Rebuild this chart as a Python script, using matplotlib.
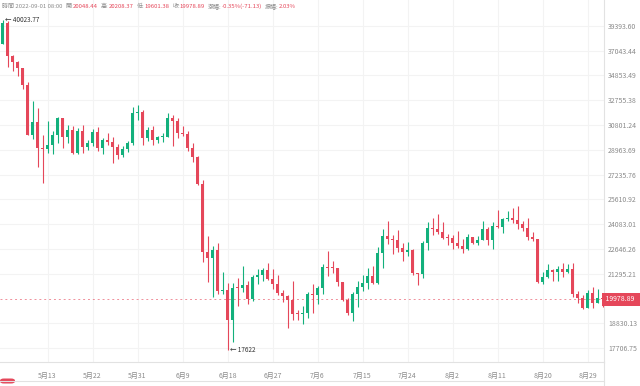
import matplotlib
matplotlib.use('Agg')
import matplotlib.pyplot as plt
import matplotlib.transforms as mtransforms
from matplotlib.lines import Line2D
from matplotlib.patches import FancyBboxPatch
from matplotlib.ticker import NullLocator
import numpy as np
import pandas as pd

plt.rcParams['font.family'] = ['Noto Sans CJK TC', 'DejaVu Sans']

# daily candles, 2022-05-04 .. 2022-09-01
dates = pd.date_range('2022-05-04', '2022-09-01', freq='D')
opens = [
    37714, 39695, 36552, 36013, 35472, 34038, 30074, 31017, 29103, 29029,
    29287, 30086, 31328, 29874, 30444, 28715, 30319, 29201, 29445, 30293,
    29109, 29654, 29542, 29201, 28629, 29031, 29468, 31734, 31801, 29805,
    30452, 29700, 29864, 29919, 31373, 31125, 30204, 30109, 29091, 28424,
    26574, 22485, 22136, 22583, 20400, 20468, 18970, 20574, 20573, 20723,
    19988, 21110, 21237, 21491, 21038, 20742, 20281, 20123, 19942, 19279,
    19252, 19315, 20236, 20175, 20564, 21624, 21594, 21592, 20861, 19963,
    19331, 20234, 20588, 20830, 21195, 20799, 22432, 23398, 23223, 23152,
    22684, 22448, 22577, 21310, 21254, 22954, 23845, 23777, 23644, 23296,
    23266, 22985, 22816, 22622, 23313, 22954, 23174, 23810, 23151, 23954,
    23933, 24401, 24443, 24305, 24093, 23856, 23342, 23191, 20834, 21140,
    21516, 21400, 21529, 21368, 21559, 20239, 20037, 19555, 20287, 19813,
    20048.44,
]
highs = [
    40023.77, 39845, 36675, 36146, 35514, 34243, 32659, 32162, 30032, 31083,
    30343, 31460, 31328, 30788, 30710, 30545, 30777, 29656, 30488, 30670,
    29845, 30223, 29886, 29396, 29266, 29587, 32222, 32399, 31982, 30689,
    30699, 29988, 30189, 31765, 31589, 31327, 30700, 30382, 29440, 28545,
    26895, 23362, 22800, 22995, 21365, 20792, 20815, 21090, 21723, 20900,
    21233, 21558, 21614, 21888, 21539, 21212, 20432, 20179, 20918, 19467,
    19647, 20354, 20750, 20675, 21838, 22527, 21980, 21607, 20868, 20059,
    20366, 20900, 21200, 21588, 21684, 22777, 23800, 24276, 23442, 23756,
    22998, 23014, 22666, 21347, 23112, 24199, 24442, 24668, 24194, 23509,
    23459, 23647, 23223, 23472, 23354, 23402, 24245, 23933, 24226, 24918,
    24456, 24888, 25047, 25211, 24247, 24446, 23600, 23208, 21382, 21800,
    21548, 21684, 21892, 21819, 21886, 20402, 20171, 20433, 20576, 20490,
    20208.37,
]
lows = [
    37670, 35571, 35258, 34785, 33713, 30033, 29730, 27785, 26700, 28751,
    28630, 29480, 29087, 29450, 28654, 28691, 28730, 28947, 29255, 28866,
    28669, 29294, 28019, 28282, 28450, 28839, 29299, 31200, 29301, 29594,
    29282, 29485, 29531, 29890, 29218, 29843, 29944, 28850, 28100, 26560,
    21925, 20846, 20111, 20232, 20246, 17622, 17960, 19637, 20348, 19770,
    19890, 20736, 20906, 20964, 20510, 20202, 19854, 18626, 18975, 18977,
    18781, 19055, 19304, 19761, 20251, 21189, 21322, 20655, 19901, 19240,
    18910, 19616, 20382, 20478, 20750, 20762, 21579, 22906, 22341, 22500,
    21950, 22257, 21250, 20706, 21042, 22582, 23414, 23502, 23227, 22850,
    22654, 22681, 22400, 22586, 22909, 22844, 23154, 22865, 22664, 23852,
    23583, 24291, 24144, 23773, 23671, 23180, 23111, 20783, 20761, 21069,
    20890, 20890, 21140, 21310, 20107, 19800, 19520, 19550, 19540, 19797,
    19601.38,
]
closes = [
    39695, 36552, 36013, 35472, 34038, 30076, 31017, 29103, 29029, 29287,
    30086, 31328, 29874, 30444, 28715, 30319, 29201, 29445, 30293, 29109,
    29654, 29542, 29201, 28629, 29031, 29468, 31734, 31801, 29805, 30452,
    29700, 29864, 29919, 31373, 31125, 30204, 30109, 29091, 28424, 26574,
    22487, 22136, 22583, 20401, 20468, 18970, 20574, 20573, 20723, 19988,
    21110, 21237, 21491, 21038, 20742, 20281, 20123, 19942, 19279, 19252,
    19315, 20236, 20175, 20564, 21624, 21594, 21591, 20862, 19963, 19328,
    20234, 20588, 20830, 21195, 20798, 22432, 23396, 23223, 23152, 22684,
    22451, 22579, 21310, 21254, 22952, 23842, 23773, 23643, 23293, 23268,
    22987, 22818, 22622, 23312, 22954, 23174, 23810, 23149, 23954, 23934,
    24403, 24441, 24305, 24094, 23854, 23342, 23191, 20834, 21140, 21515,
    21399, 21529, 21368, 21559, 20241, 20037, 19555, 20285, 19811, 20050,
    19978.89,
]

price_ticks = [39393.60, 37043.44, 34853.49, 32755.38, 30801.24, 28963.69,
               27235.76, 25610.92, 24083.01, 22646.26, 21295.21, 18830.13,
               17706.75]
last_price = 19978.89
header = [
    ('時間 2022-09-01 08:00', 'label'),
    ('開:', 'label'), ('20048.44', 'value'),
    ('高:', 'label'), ('20208.37', 'value'),
    ('低:', 'label'), ('19601.38', 'value'),
    ('收:', 'label'), ('19978.89', 'value'),
    ('漲幅:', 'label'), ('-0.35%(-71.13)', 'value'),
    ('振幅:', 'label'), ('2.03%', 'value'),
]

UP = '#13B07C'
DOWN = '#E5475A'
GRID = '#f3f3f3'
AXIS = '#e2e2e2'
TEXT = '#8a8a8a'

fig = plt.figure(figsize=(6.4, 3.86), dpi=100)
ax = fig.add_axes([0, 24 / 386, 604 / 640, 362 / 386])
ax.set_yscale('log')

o = np.array(opens, dtype=float)
h = np.array(highs, dtype=float)
l = np.array(lows, dtype=float)
c = np.array(closes, dtype=float)
x = np.arange(len(dates))
colors = np.where(c >= o, UP, DOWN)

ax.vlines(x, l, h, colors=colors, lw=0.8, zorder=3)
bottom = np.minimum(o, c)
top = np.maximum(np.maximum(o, c), bottom * 1.0026)  # keep doji visible
ax.bar(x, top - bottom, bottom=bottom, width=0.74, color=colors, lw=0, zorder=4)

ax.set_xlim(-0.5, 120.3)
ax.set_ylim(17100, 42020)

# last price line + tag
ax.axhline(last_price, color=DOWN, lw=0.7, ls=(0, (2, 3)), alpha=0.6, zorder=2)
trans = mtransforms.blended_transform_factory(ax.transAxes, ax.transData)
ax.text(1.0, last_price, ' 19978.89  ', transform=trans, ha='left', va='center',
        fontsize=5, color='white', clip_on=False, zorder=6,
        bbox=dict(boxstyle='square,pad=0.35', fc=DOWN, ec='none'))

# high / low markers
i_hi = int(np.argmax(h))
i_lo = int(np.argmin(l))
ax.text(x[i_hi] + 0.5, h[i_hi], '← %.2f' % h[i_hi], fontsize=4.6,
        color='#333333', va='center', ha='left', zorder=5)
ax.text(x[i_lo] + 0.6, l[i_lo], '← %g' % l[i_lo], fontsize=4.6,
        color='#333333', va='center', ha='left', zorder=5)

# axes
ax.yaxis.tick_right()
ax.yaxis.set_minor_locator(NullLocator())
ax.set_yticks(price_ticks)
ax.set_yticklabels(['%.2f' % v for v in price_ticks])
tick_idx = list(range(9, len(dates), 9))
ax.set_xticks(tick_idx)
ax.set_xticklabels(['%d月%d' % (dates[i].month, dates[i].day) for i in tick_idx])
ax.tick_params(axis='both', length=0, labelsize=5, labelcolor=TEXT)
ax.tick_params(axis='y', pad=3)
ax.tick_params(axis='x', pad=7)
ax.grid(True, color=GRID, lw=0.8, zorder=0)
ax.set_axisbelow(True)
for side in ('top', 'left'):
    ax.spines[side].set_visible(False)
for side in ('right', 'bottom'):
    ax.spines[side].set_color(AXIS)
    ax.spines[side].set_linewidth(0.8)

# header line: gray labels, red values
prev = fig.text(2 / 640, 1 - 6 / 386, header[0][0], fontsize=4.3, color=TEXT,
                ha='left', va='center')
for s, kind in header[1:]:
    gap = 2.2 if kind == 'label' else 0
    prev = ax.annotate(
        s, xy=(1, 0.5), xycoords=prev, xytext=(gap, 0), textcoords='offset points',
        fontsize=4.3, color=TEXT if kind == 'label' else DOWN,
        ha='left', va='center', annotation_clip=False)

# bottom strip
fig.add_artist(Line2D([0, 604 / 640], [5 / 386, 5 / 386], color=AXIS, lw=0.8))
fig.add_artist(Line2D([604 / 640, 604 / 640], [0, 24 / 386], color=AXIS, lw=0.8))
fig.add_artist(FancyBboxPatch((0, 2.5 / 386), 15 / 640, 5 / 386,
                              boxstyle='round,pad=0,rounding_size=0.006',
                              fc=DOWN, ec='none', transform=fig.transFigure))

fig.savefig('out.png', dpi=100)
